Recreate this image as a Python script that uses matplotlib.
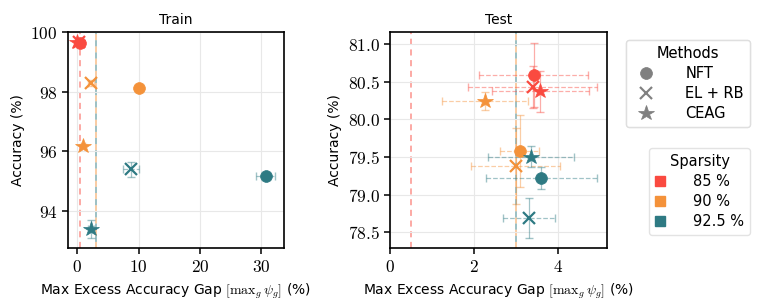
import matplotlib
matplotlib.use("Agg")
import matplotlib.pyplot as plt
from matplotlib.lines import Line2D
import matplotlib.patches as mpatches
from matplotlib.ticker import FuncFormatter, FixedLocator

plt.rcParams['font.family'] = ['DejaVu Sans']
plt.rcParams['mathtext.fontset'] = 'cm'

sparsity_labels = ['85 %', '90 %', '92.5 %']
colors = ['#FA4A40', '#F4923A', '#2E7A83']
methods = ['NFT', 'EL + RB', 'CEAG']
markers = ['o', 'x', '*']
msizes = [8.5, 8, 11.5]
thresholds = [0.5, 3.0, 3.0]  # per sparsity

# train values [sparsity][method]
train_gap = [[0.5, 0.3, 0.0], [10.0, 2.3, 1.0], [30.7, 8.7, 2.2]]
train_gap_err = [[0.2, 0.2, 0.2], [0.3, 0.5, 0.3], [1.6, 1.3, 0.5]]
train_acc = [[99.64, 99.66, 99.68], [98.11, 98.27, 96.17], [95.17, 95.39, 93.37]]
train_acc_err = [[0.05, 0.05, 0.05], [0.05, 0.1, 0.05], [0.05, 0.25, 0.3]]

# test values [sparsity][method]
test_gap = [[3.42, 3.40, 3.58], [3.09, 2.99, 2.26], [3.60, 3.32, 3.36]]
test_gap_err = [[1.30, 1.53, 1.15], [0.46, 1.06, 1.03], [1.32, 0.62, 1.03]]
test_acc = [[80.59, 80.43, 80.37], [79.58, 79.38, 80.24], [79.22, 78.69, 79.50]]
test_acc_err = [[0.43, 0.28, 0.27], [0.48, 0.50, 0.12], [0.15, 0.27, 0.14]]

fig = plt.figure(figsize=(7.62, 3.08), dpi=100)
ax1 = fig.add_axes([0.0892, 0.1948, 0.2835, 0.7013])
ax2 = fig.add_axes([0.5118, 0.1948, 0.2848, 0.7013])

dash_styles = [(0, (4, 3)), (0, (4, 4)), (4, (4, 4))]


def draw(ax, gap, gap_err, acc, acc_err):
    ax.grid(True, color='#e8e8e8', linewidth=0.8, zorder=0)
    for s in range(3):
        ax.axvline(thresholds[s], color=colors[s], linestyle=dash_styles[s], linewidth=1.1,
                   alpha=0.6, zorder=1)
    for s in range(3):
        for m in range(3):
            eb = ax.errorbar(gap[s][m], acc[s][m], xerr=gap_err[s][m], yerr=acc_err[s][m],
                             fmt='none', ecolor=colors[s], elinewidth=0.9, capsize=3,
                             alpha=0.45, zorder=2)
            eb[-1][0].set_linestyle('--')
            ax.plot(gap[s][m], acc[s][m], marker=markers[m], color=colors[s],
                    markersize=msizes[m], markeredgewidth=1.6 if m == 1 else 0.5,
                    linestyle='none', zorder=3)
    for sp in ax.spines.values():
        sp.set_linewidth(1.2)
    ax.tick_params(labelsize=12.5, length=4, width=1.1)
    ax.set_xlabel('Max Excess Accuracy Gap $[\\mathrm{max}_g\\,\\psi_g]$ (%)', fontsize=10)
    ax.set_ylabel('Accuracy (%)', fontsize=10)


draw(ax1, train_gap, train_gap_err, train_acc, train_acc_err)
ax1.set_title('Train', fontsize=10)
ax1.set_xlim(-1.5, 33.7)
ax1.set_ylim(92.74, 100.0)
ax1.xaxis.set_major_locator(FixedLocator([0, 10, 20, 30]))
ax1.yaxis.set_major_locator(FixedLocator([94, 96, 98, 100]))
ax1.xaxis.set_major_formatter(FuncFormatter(lambda v, p: f'${v:g}$'))
ax1.yaxis.set_major_formatter(FuncFormatter(lambda v, p: f'${v:g}$'))

draw(ax2, test_gap, test_gap_err, test_acc, test_acc_err)
ax2.set_title('Test', fontsize=10)
ax2.set_xlim(0, 5.17)
ax2.set_ylim(78.29, 81.16)
ax2.xaxis.set_major_locator(FixedLocator([0, 2, 4]))
ax2.yaxis.set_major_locator(FixedLocator([78.5, 79.0, 79.5, 80.0, 80.5, 81.0]))
ax2.xaxis.set_major_formatter(FuncFormatter(lambda v, p: f'${v:g}$'))
ax2.yaxis.set_major_formatter(FuncFormatter(lambda v, p: f'${v:.1f}$'))

method_handles = [Line2D([0], [0], marker=markers[m], color='#808080', linestyle='none',
                         markersize=msizes[m], markeredgewidth=1.5 if m == 1 else 0.5,
                         label=methods[m]) for m in range(3)]
leg1 = fig.legend(handles=method_handles, title='Methods', loc='upper right',
                  bbox_to_anchor=(0.984, 0.870), borderaxespad=0, fontsize=10.5,
                  title_fontsize=10.5, edgecolor='#dcdcdc', fancybox=True,
                  handletextpad=1.7, labelspacing=0.35)
fig.add_artist(leg1)

sparsity_handles = [mpatches.Patch(color=colors[s], label=sparsity_labels[s]) for s in range(3)]
fig.legend(handles=sparsity_handles, title='Sparsity', loc='upper right',
           bbox_to_anchor=(0.984, 0.519), borderaxespad=0, fontsize=10.5,
           title_fontsize=10.5, edgecolor='#dcdcdc', fancybox=True,
           handlelength=0.7, handleheight=0.7, handletextpad=1.9, labelspacing=0.35)

fig.savefig('out.png', dpi=100)
